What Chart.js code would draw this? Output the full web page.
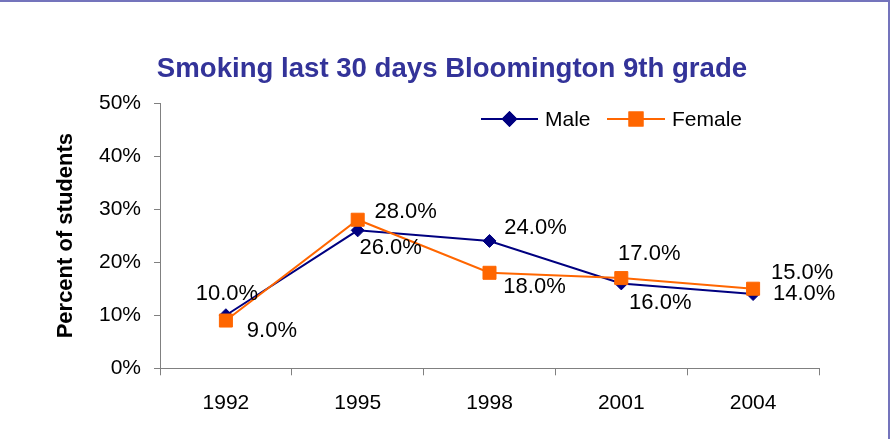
<!DOCTYPE html>
<html>
<head>
<meta charset="utf-8">
<script src="https://cdn.jsdelivr.net/npm/chart.js@4.4.1/dist/chart.umd.min.js"></script>
<style>
  html, body { margin: 0; padding: 0; background: #fff; }
  #wrap { position: relative; width: 894px; height: 439px; overflow: hidden; }
  #frame { position: absolute; left: -4px; top: 0; width: 894px; height: 460px;
           border-top: 2px solid #7474bc; border-right: 2px solid #7474bc; box-sizing: border-box; pointer-events: none; }
</style>
</head>
<body>
<div id="wrap">
  <canvas id="chart"></canvas>
  <div id="frame"></div>
</div>
<script>
/* ── data ── */
const years = ['1992', '1995', '1998', '2001', '2004'];
const maleValues = [10, 26, 24, 16, 14];
const femaleValues = [9, 28, 18, 17, 15];
const yMin = 0, yMax = 50, yStep = 10;

// where each value label sits relative to its point (styling only)
const maleLabelShift = [[1, -21], [33, 18], [46, -13], [39, 20], [51, 0]];
const femaleLabelShift = [[46, 10], [48, -8], [45, 14], [28, -24], [49, -16]];

const FONT = "'Liberation Sans', Arial, sans-serif";
const MALE = '#000080';
const FEMALE = '#FF6600';
const AXIS = '#808080';

/* ── value labels next to each point ── */
const valueLabels = {
  id: 'valueLabels',
  afterDatasetsDraw(chart) {
    const ctx = chart.ctx;
    ctx.save();
    ctx.font = '22px ' + FONT;
    ctx.fillStyle = '#000';
    ctx.textAlign = 'center';
    ctx.textBaseline = 'middle';
    chart.data.datasets.forEach((ds, i) => {
      const meta = chart.getDatasetMeta(i);
      meta.data.forEach((pt, j) => {
        const [dx, dy] = ds.labelShift[j];
        ctx.fillText(ds.data[j].toFixed(1) + '%', pt.x + dx, pt.y + dy);
      });
    });
    ctx.restore();
  }
};

/* ── title + legend drawn by hand ── */
const headerBits = {
  id: 'headerBits',
  afterDraw(chart) {
    const ctx = chart.ctx;
    ctx.save();
    ctx.font = 'bold 27.6px ' + FONT;
    ctx.fillStyle = '#333399';
    ctx.textAlign = 'center';
    ctx.textBaseline = 'alphabetic';
    ctx.fillText('Smoking last 30 days Bloomington 9th grade', 452, 77);

    const y = 119;
    const items = [
      { ds: chart.data.datasets[1], x0: 481, x1: 538, text: 545 },
      { ds: chart.data.datasets[0], x0: 607, x1: 665, text: 672 }
    ];
    items.forEach(it => {
      ctx.strokeStyle = it.ds.borderColor;
      ctx.lineWidth = 2;
      ctx.beginPath();
      ctx.moveTo(it.x0, y);
      ctx.lineTo(it.x1, y);
      ctx.stroke();
      Chart.helpers.drawPoint(ctx, {
        pointStyle: it.ds.pointStyle,
        radius: it.ds.pointRadius,
        borderWidth: 1
      }, (it.x0 + it.x1) / 2, y);
      ctx.fillStyle = it.ds.pointBackgroundColor;
      ctx.strokeStyle = it.ds.pointBorderColor;
      ctx.fill();
      ctx.stroke();
      ctx.fillStyle = '#000';
      ctx.font = '21px ' + FONT;
      ctx.textAlign = 'left';
      ctx.textBaseline = 'middle';
      ctx.fillText(it.ds.label, it.text, y + 1);
    });
    ctx.restore();
  }
};

new Chart(document.getElementById('chart'), {
  type: 'line',
  data: {
    labels: years,
    datasets: [
      {
        label: 'Female',
        data: femaleValues,
        labelShift: femaleLabelShift,
        order: 0,
        borderColor: FEMALE,
        borderWidth: 2,
        pointStyle: 'rect',
        pointRadius: 9.2,
        pointBackgroundColor: FEMALE,
        pointBorderColor: FEMALE,
        pointBorderWidth: 1,
        tension: 0,
        fill: false
      },
      {
        label: 'Male',
        data: maleValues,
        labelShift: maleLabelShift,
        order: 1,
        borderColor: MALE,
        borderWidth: 2,
        pointStyle: 'rectRot',
        pointRadius: 6.5,
        pointBackgroundColor: MALE,
        pointBorderColor: MALE,
        pointBorderWidth: 1,
        tension: 0,
        fill: false
      }
    ]
  },
  options: {
    responsive: true,
    maintainAspectRatio: false,
    animation: false,
    layout: { padding: { top: 103, right: 75, bottom: 0, left: 0 } },
    plugins: {
      legend: { display: false },
      title: { display: false },
      tooltip: { enabled: false }
    },
    scales: {
      x: {
        offset: true,
        grid: { offset: true, drawOnChartArea: false, drawTicks: true, tickLength: 7, color: AXIS },
        border: { display: true, color: AXIS, width: 1 },
        ticks: { color: '#000', font: { family: FONT, size: 21 }, padding: 15, maxRotation: 0 },
        afterFit: s => { s.height = 70.7; }
      },
      y: {
        min: yMin,
        max: yMax,
        grid: { drawOnChartArea: false, drawTicks: true, tickLength: 6, color: AXIS },
        border: { display: true, color: AXIS, width: 1 },
        ticks: {
          stepSize: yStep,
          color: '#000',
          font: { family: FONT, size: 21 },
          padding: 13,
          callback: v => v + '%'
        },
        title: {
          display: true,
          text: 'Percent of students',
          color: '#000',
          font: { family: FONT, size: 22, weight: 'bold' },
          padding: { top: 53, bottom: 0 }
        },
        afterFit: s => { s.width = 160; }
      }
    }
  },
  plugins: [valueLabels, headerBits]
});
</script>
</body>
</html>
